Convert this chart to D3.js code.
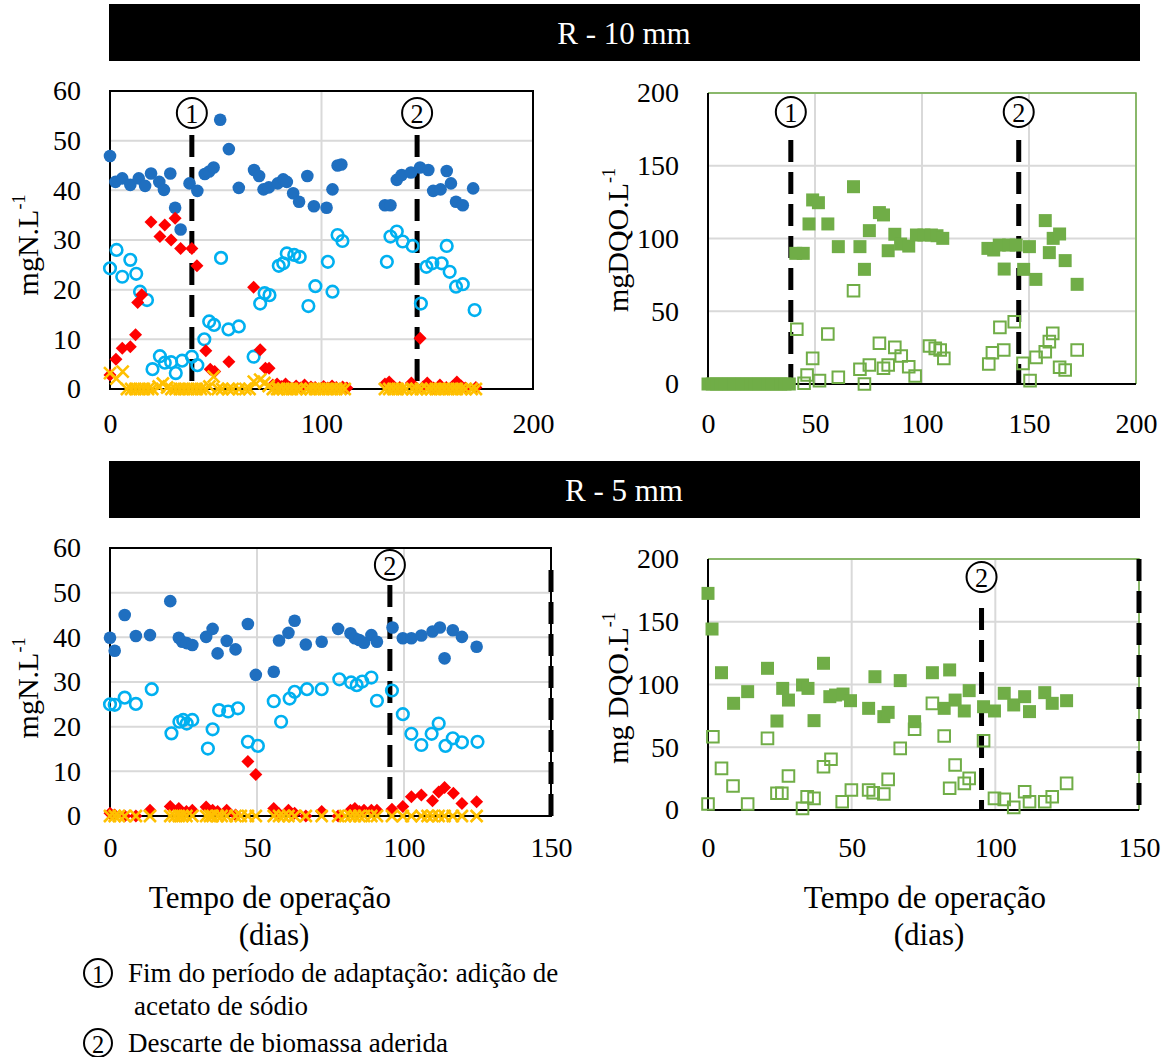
<!DOCTYPE html>
<html>
<head>
<meta charset="utf-8">
<script src="https://cdn.jsdelivr.net/npm/d3@7"></script>
<style>
  html, body { margin: 0; padding: 0; background: #fff; }
  svg { display: block; }
</style>
</head>
<body>
<div id="chart"></div>
<script>
// R-10 mm / R-5 mm – nitrogênio e DQO ao longo do tempo de operação

// ---- R - 10 mm, nitrogênio (mgN/L) : [dia, valor]
const r10BlueDots = [[0,46.9],[2.6,41.7],[5.8,42.4],[9.6,41.1],[13.6,42.4],[16.6,40.9],[19.4,43.4],[23.3,41.7],[25.5,40.1],[28.5,43.4],[30.8,36.5],[33.4,32.1],[37.6,41.4],[41.3,39.9],[44.8,43.3],[46.9,43.8],[49,44.6],[52.1,54.2],[56.2,48.3],[60.9,40.5],[68.1,44.1],[70.5,42.9],[72.6,40.2],[75.1,40.6],[79.3,41.4],[81.9,42.2],[83.6,41.7],[86.6,39.4],[89.4,37.7],[93.3,42.9],[96.4,36.8],[102.4,36.5],[105.2,40.2],[107.6,45.0],[109.4,45.2],[130,37.0],[132.6,37.0],[135.6,42.1],[137.9,43.1],[142.3,43.6],[146.6,44.6],[150.5,44.1],[152.8,39.9],[156.3,40.2],[159.2,43.9],[161.2,41.4],[163.6,37.7],[166.8,37.0],[171.7,40.4]];
const r10CyanRings = [[0,24.3],[3.1,28.0],[5.8,22.6],[9.6,26.0],[12.4,23.2],[14.2,19.6],[17.5,17.9],[20.1,4.0],[23.6,6.6],[25.9,5.3],[28.9,5.4],[31.1,3.2],[34.1,5.7],[38.7,6.5],[41.3,4.8],[44.6,10.0],[46.9,13.6],[49.2,12.9],[52.5,26.4],[56,12.0],[60.9,12.6],[67.9,6.5],[71,17.2],[73.1,19.3],[75.4,18.9],[79.8,24.8],[81.9,25.3],[83.6,27.3],[87.1,27.0],[89.7,26.6],[93.8,16.7],[97.1,20.7],[103,25.6],[105.2,19.6],[107.6,31.0],[109.9,29.8],[130.9,25.6],[132.6,30.7],[135.6,31.7],[138.4,29.7],[143.1,28.8],[147,17.2],[149.6,24.6],[152.4,25.3],[156.8,25.3],[159.2,28.8],[160.6,23.6],[163.6,20.6],[166.8,21.1],[172.4,15.9]];
const r10RedDiamonds = [[0,2.8],[2.8,6.0],[5.8,8.2],[9.6,8.5],[12.1,10.9],[13.1,17.4],[15,19.0],[19.4,33.6],[23.6,30.7],[25.9,33.0],[28.9,30.0],[30.8,34.4],[33.4,28.3],[38.7,28.3],[41.1,24.8],[45.3,7.7],[47.4,4.0],[49.5,3.5],[56.2,5.5],[67.9,20.5],[71,7.9],[73.5,4.2],[75.2,4.2],[77,0.8],[79,1.0],[81,0.5],[83,1.0],[85,0.3],[88,0.6],[90,0.2],[92,0.8],[95,0.4],[97,0.3],[101,0.5],[103,0.2],[105,0.6],[107,0.3],[110,0.4],[112,0.2],[130,1.0],[132,1.4],[134,0.5],[137,0.3],[142.5,1.2],[146.6,10.2],[148,0.4],[150,1.2],[153,0.2],[156,0.8],[159,0.3],[162,0.5],[164,1.4],[166,0.6],[168,0.2],[173,0.3]];
const r10OrangeCrosses = [[0,3.2],[3,2.1],[6,3.5],[8,0],[10,0],[12,0],[14,0],[16,0],[18,0],[20,0],[23,0.5],[25,1.1],[27,0.3],[29,0],[31,0],[33,0],[35,0],[37,0],[39,0],[41,0],[43,0],[45,0],[47,0.5],[49,2.5],[51,0],[53,0],[56,0],[58,0],[61,0],[64,0],[66,0],[68,1.5],[71,1.9],[73,1.2],[75,0.6],[77,0],[79,0],[80,0],[82,0],[84,0],[86,0],[88,0],[90,0],[93,0],[95,0],[97,0],[99,0],[101,0],[103,0],[105,0],[107,0],[109,0],[111,0],[130,0],[132,0],[134,0],[136,0],[138,0],[140,0],[143,0],[145,0],[147,0],[150,0],[152,0],[154,0],[156,0],[158,0],[160,0],[162,0],[164,0],[166,0],[168,0],[171,0],[173,0]];

// ---- R - 10 mm, DQO (mg/L)
const r10DqoFilled = [[0,0],[2,0],[4,0],[6,0],[8,0],[10,0],[12,0],[14,0],[16,0],[18,0],[20,0],[22,0],[24,0],[26,0],[28,0],[30,0],[32,0],[34,0],[36,0],[38,0],[41,89.8],[44.5,89.8],[47.2,110],[48.9,126.5],[51.6,124.6],[56,110],[60.9,94.4],[68,135.6],[71,94.4],[73.1,78.8],[75.4,105.4],[80.1,117.8],[82,116.2],[84.2,91.6],[87.3,102.9],[90,96.2],[93.8,94.8],[97.4,102.4],[100.9,102.4],[104.4,102.4],[107,101.9],[109.7,100.1],[130.8,93.2],[133.5,92.1],[136.1,95.5],[138.4,79],[140.5,95.5],[144,95.5],[147.5,78.8],[150.2,94.4],[153.2,71.9],[157.6,112.3],[159.5,90.3],[161.3,100.1],[164.3,103.1],[166.9,84.8],[172.5,68.5]];
const r10DqoOpen = [[41.5,37.6],[44.9,0.5],[46.3,6.2],[48.9,17.6],[52.1,2.3],[56,34.4],[60.9,4.6],[68,64.1],[71,10.1],[73.1,0],[75.4,13.1],[80.1,28],[82,10.8],[84.2,13.1],[87.3,25.2],[90.3,19.2],[93.8,11.9],[96.8,5.5],[103.5,26.1],[106.2,24.5],[108.5,23.4],[110.2,17.6],[131.2,13.7],[132.9,21.5],[136.4,38.9],[138.2,23.4],[143.1,42.8],[147.2,14.2],[150.5,2.3],[153.3,18.3],[157.6,22.2],[159.5,29.1],[161.1,34.8],[164.3,11.5],[166.9,9.6],[172.5,23.4]];

// ---- R - 5 mm, nitrogênio (mgN/L)
const r5BlueDots = [[0,39.9],[1.6,37.0],[5,45.0],[8.8,40.3],[13.6,40.5],[20.5,48.1],[23.4,39.9],[24.6,39.0],[26.1,38.7],[28,38.3],[32.7,40.1],[34.9,41.9],[36.6,36.4],[39.7,39.2],[42.7,37.3],[46.9,43.0],[49.6,31.6],[55.7,32.3],[57.5,39.3],[60.7,41.0],[62.8,43.7],[66.6,38.4],[72,39.0],[77.6,41.9],[81.8,40.9],[83.3,39.8],[84.8,39.4],[86.4,38.8],[88.9,40.5],[90.8,39.0],[96.1,42.2],[99.6,39.8],[102.5,39.8],[105.9,40.4],[109.7,41.3],[112.2,42.2],[113.8,35.3],[116.6,41.6],[119.7,40.1],[124.7,37.9]];
const r5CyanRings = [[0,25.0],[1.6,24.9],[5,26.5],[8.8,25.1],[14.2,28.4],[20.9,18.5],[23.6,21.1],[24.9,21.5],[26.1,20.7],[28,21.5],[33.3,15.1],[34.9,19.4],[37.1,23.7],[40.2,23.4],[43.5,24.1],[46.9,16.6],[50.3,15.7],[55.7,25.7],[58.2,21.1],[61.1,26.3],[62.8,27.8],[67,28.4],[72,28.4],[78,30.6],[82,29.9],[83.9,29.3],[85.8,30.1],[88.9,31.0],[90.8,25.8],[95.9,28.1],[99.6,22.8],[102.5,18.4],[105.9,15.9],[109.4,18.4],[111.8,20.7],[114.1,15.7],[116.6,17.4],[119.7,16.5],[125,16.6]];
const r5RedDiamonds = [[0,0.6],[1.6,0.2],[5,0],[8.8,0],[13.6,1.3],[20.5,2.1],[23.4,1.7],[26,1.0],[28,1.3],[32.7,2.0],[34.9,1.3],[36.6,1.0],[39.7,1.3],[42.7,0.2],[46.9,12.2],[49.6,9.3],[55.7,1.7],[57.5,0.5],[60.7,1.3],[62.8,0.6],[66.6,0],[72,1.0],[77.6,0],[81.8,1.3],[83.3,1.7],[84.8,1.0],[86.4,1.3],[88.9,1.3],[90.8,1.3],[95.9,1.5],[99.6,2.1],[102.5,4.3],[105.9,4.7],[109.7,3.4],[111.8,5.4],[113.8,6.4],[116.8,5.1],[119.7,2.8],[124.7,3.2]];
const r5OrangeCrosses = [[0,0],[1.6,0],[3,0],[5,0],[8.8,0],[13.6,0],[20.5,0],[22,0],[23.4,0],[24.6,0],[26,0],[28,0],[32.7,0],[34,0],[34.9,0],[36.6,0],[38,0],[39.7,0],[42.7,0],[44.5,0],[46.9,0],[49.6,0],[55.7,0],[57.5,0],[59,0],[60.7,0],[62.8,0],[66.6,0],[72,0],[77.6,0],[80,0],[81.8,0],[83.3,0],[84.8,0],[86.4,0],[88.9,0],[90.8,0],[95.9,0],[99.6,0],[102.5,0],[105.9,0],[108,0],[109.7,0],[111.8,0],[113.8,0],[116.6,0],[119.7,0],[124.7,0]];

// ---- R - 5 mm, DQO (mg/L)
const r5DqoFilled = [[0,172.6],[1.4,144.2],[4.7,109.4],[8.9,85.0],[13.8,94.3],[20.7,112.9],[24,70.9],[26,96.9],[28,87.6],[32.9,99.6],[34.8,96.9],[36.9,71.2],[40.2,116.9],[42.4,90.3],[44.4,91.6],[47,92.4],[49.6,87.1],[55.9,81.0],[58.1,106.2],[61.2,74.4],[62.7,77.8],[66.9,103.1],[71.9,70.4],[78.1,109.4],[82.2,81.0],[84.1,111.6],[86,87.6],[89.2,78.9],[90.9,95.1],[95.9,82.3],[99.7,78.9],[103.1,93],[106.4,83.7],[110.2,90.3],[111.9,78.4],[117.2,93.5],[119.8,85],[124.8,87.1]];
const r5DqoOpen = [[0,4.8],[1.7,58.4],[4.7,33.2],[8.7,19.1],[13.8,4.8],[20.7,57.1],[24,13.3],[25.7,13.3],[28,27.1],[32.9,1.3],[34.5,10.6],[36.9,9.3],[40.2,34.5],[42.8,40.4],[46.7,6.6],[49.9,15.9],[55.9,15.9],[57.5,13.8],[61.2,12.7],[62.7,24.4],[66.9,49.1],[71.9,64.3],[78.1,85],[82.2,59],[84.1,17.3],[86,35.9],[89.2,21.2],[90.9,25.2],[95.9,55.2],[99.7,9.3],[103.1,8.5],[106.4,2.1],[110.2,14.6],[111.9,6.6],[117.2,6.6],[119.8,10.6],[124.8,21.2]];

// eventos: 1 = fim da adaptação, 2 = descarte de biomassa
const r10Events = [{ day: 38.7, label: '1' }, { day: 145.2, label: '2' }];
const r5Events = [{ day: 95.2, label: '2' }];

const xTicksR10 = [0, 100, 200];
const xTicksR10Dqo = [0, 50, 100, 150, 200];
const xTicksR5 = [0, 50, 100, 150];
const yTicksN = [0, 10, 20, 30, 40, 50, 60];
const yTicksDqo = [0, 50, 100, 150, 200];

const FONT = '"Liberation Serif", "Times New Roman", serif';
const BLUE = '#1f6fc0', CYAN = '#00b0f0', RED = '#ff0000', ORANGE = '#ffc000', GREEN = '#70ad47';

const svg = d3.select('#chart').append('svg')
  .attr('width', 1170)
  .attr('height', 1057)
  .style('font-family', FONT);

// black title bars
[{ y: 4, text: 'R - 10 mm' }, { y: 461, text: 'R - 5 mm' }].forEach(b => {
  svg.append('rect')
    .attr('x', 109).attr('y', b.y)
    .attr('width', 1031).attr('height', 57)
    .attr('fill', '#000');
  svg.append('text')
    .attr('x', 624).attr('y', b.y + 29)
    .attr('text-anchor', 'middle')
    .attr('dominant-baseline', 'central')
    .attr('fill', '#fff')
    .attr('font-size', 31)
    .text(b.text);
});

function eventCircle(g, cx, cy, label, r) {
  g.append('circle')
    .attr('cx', cx).attr('cy', cy).attr('r', r)
    .attr('fill', '#fff').attr('stroke', '#000').attr('stroke-width', 2);
  g.append('text')
    .attr('x', cx).attr('y', cy + 1)
    .attr('text-anchor', 'middle')
    .attr('dominant-baseline', 'central')
    .attr('font-size', r * 1.75)
    .text(label);
}

function drawPanel(p) {
  const g = svg.append('g');
  const x = d3.scaleLinear().domain(p.xDomain).range([p.left, p.right]);
  const y = d3.scaleLinear().domain(p.yDomain).range([p.bottom, p.top]);

  // gridlines
  g.selectAll('.hg').data(p.yTicks).join('line')
    .attr('x1', p.left).attr('x2', p.right)
    .attr('y1', d => y(d)).attr('y2', d => y(d))
    .attr('stroke', '#d9d9d9').attr('stroke-width', 2);
  g.selectAll('.vg').data(p.xTicks).join('line')
    .attr('x1', d => x(d)).attr('x2', d => x(d))
    .attr('y1', p.top).attr('y2', p.bottom)
    .attr('stroke', '#d9d9d9').attr('stroke-width', 2);

  // frame
  if (p.greenFrame) {
    g.append('path')
      .attr('d', `M${p.left},${p.top}H${p.right}V${p.bottom}`)
      .attr('fill', 'none').attr('stroke', GREEN).attr('stroke-width', 1.5);
    g.append('path')
      .attr('d', `M${p.left},${p.top}V${p.bottom}H${p.right}`)
      .attr('fill', 'none').attr('stroke', '#000').attr('stroke-width', 2);
  } else {
    g.append('rect')
      .attr('x', p.left).attr('y', p.top)
      .attr('width', p.right - p.left).attr('height', p.bottom - p.top)
      .attr('fill', 'none').attr('stroke', '#000').attr('stroke-width', 2);
  }

  // event lines
  p.events.forEach(e => {
    g.append('line')
      .attr('x1', x(e.day)).attr('x2', x(e.day))
      .attr('y1', e.y0).attr('y2', p.bottom)
      .attr('stroke', '#000').attr('stroke-width', 5)
      .attr('stroke-dasharray', '22,10');
    if (e.label) eventCircle(g, x(e.day), e.cy, e.label, 15);
  });

  // series
  p.series.forEach(s => {
    const sel = g.append('g').selectAll('path').data(s.data).join('path')
      .attr('transform', d => `translate(${x(d[0])},${y(d[1])})`);
    if (s.shape === 'dot') {
      sel.attr('d', d3.symbol(d3.symbolCircle, Math.PI * 6.3 * 6.3)).attr('fill', s.color);
    } else if (s.shape === 'ring') {
      sel.attr('d', d3.symbol(d3.symbolCircle, Math.PI * 5.8 * 5.8))
        .attr('fill', 'none').attr('stroke', s.color).attr('stroke-width', 2.6);
    } else if (s.shape === 'diamond') {
      sel.attr('d', 'M0,-6.5L6.5,0L0,6.5L-6.5,0Z').attr('fill', s.color);
    } else if (s.shape === 'cross') {
      sel.attr('d', 'M-6,-6L6,6M-6,6L6,-6')
        .attr('fill', 'none').attr('stroke', s.color).attr('stroke-width', 2.6);
    } else if (s.shape === 'square') {
      sel.attr('d', 'M-6.5,-6.5H6.5V6.5H-6.5Z').attr('fill', s.color);
    } else if (s.shape === 'openSquare') {
      sel.attr('d', 'M-5.8,-5.8H5.8V5.8H-5.8Z')
        .attr('fill', 'none').attr('stroke', s.color).attr('stroke-width', 2);
    }
  });

  // axes labels
  const ax = g.append('g')
    .attr('transform', `translate(${p.left},0)`)
    .call(d3.axisLeft(y).tickValues(p.yTicks).tickSize(0).tickPadding(29));
  const bx = g.append('g')
    .attr('transform', `translate(0,${p.bottom})`)
    .call(d3.axisBottom(x).tickValues(p.xTicks).tickSize(0).tickPadding(p.xPad));
  [ax, bx].forEach(a => {
    a.select('.domain').remove();
    a.selectAll('text').attr('font-family', FONT).attr('font-size', 28).attr('fill', '#000');
  });

  // y title
  const t = g.append('text')
    .attr('transform', `translate(${p.titleX},${p.titleY}) rotate(-90)`)
    .attr('text-anchor', 'middle')
    .attr('font-size', 30);
  t.append('tspan').text(p.title);
  t.append('tspan').attr('font-size', 18).attr('dy', -13).text('-1');
}

drawPanel({
  left: 110, right: 533, top: 91, bottom: 389,
  xDomain: [0, 200], yDomain: [0, 60], xTicks: xTicksR10, yTicks: yTicksN, xPad: 24,
  title: 'mgN.L', titleX: 38, titleY: 245,
  events: r10Events.map(e => ({ ...e, y0: 135, cy: 113 })),
  series: [
    { data: r10BlueDots, shape: 'dot', color: BLUE },
    { data: r10CyanRings, shape: 'ring', color: CYAN },
    { data: r10RedDiamonds, shape: 'diamond', color: RED },
    { data: r10OrangeCrosses, shape: 'cross', color: ORANGE }
  ]
});

drawPanel({
  left: 708, right: 1136, top: 93, bottom: 384,
  xDomain: [0, 200], yDomain: [0, 200], xTicks: xTicksR10Dqo, yTicks: yTicksDqo, xPad: 29,
  title: 'mgDQO.L', titleX: 628, titleY: 240, greenFrame: true,
  events: r10Events.map(e => ({ ...e, y0: 140, cy: 112 })),
  series: [
    { data: r10DqoFilled, shape: 'square', color: GREEN },
    { data: r10DqoOpen, shape: 'openSquare', color: GREEN }
  ]
});

drawPanel({
  left: 110, right: 551, top: 548, bottom: 816,
  xDomain: [0, 150], yDomain: [0, 60], xTicks: xTicksR5, yTicks: yTicksN, xPad: 21,
  title: 'mgN.L', titleX: 38, titleY: 688,
  events: r5Events.map(e => ({ ...e, y0: 585, cy: 565 })).concat([{ day: 150, y0: 570 }]),
  series: [
    { data: r5BlueDots, shape: 'dot', color: BLUE },
    { data: r5CyanRings, shape: 'ring', color: CYAN },
    { data: r5RedDiamonds, shape: 'diamond', color: RED },
    { data: r5OrangeCrosses, shape: 'cross', color: ORANGE }
  ]
});

drawPanel({
  left: 708, right: 1139, top: 559, bottom: 810,
  xDomain: [0, 150], yDomain: [0, 200], xTicks: xTicksR5, yTicks: yTicksDqo, xPad: 27,
  title: 'mg DQO.L', titleX: 628, titleY: 688, greenFrame: true,
  events: r5Events.map(e => ({ ...e, y0: 608, cy: 577 })).concat([{ day: 150, y0: 559 }]),
  series: [
    { data: r5DqoFilled, shape: 'square', color: GREEN },
    { data: r5DqoOpen, shape: 'openSquare', color: GREEN }
  ]
});

// x titles
[{ x: 270 }, { x: 925 }].forEach(c => {
  svg.append('text').attr('x', c.x).attr('y', 897)
    .attr('text-anchor', 'middle').attr('dominant-baseline', 'central')
    .attr('font-size', 31).text('Tempo de operação');
  svg.append('text').attr('x', c.x + 4).attr('y', 934)
    .attr('text-anchor', 'middle').attr('dominant-baseline', 'central')
    .attr('font-size', 31).text('(dias)');
});

// notes
const notes = svg.append('g');
eventCircle(notes, 98, 973, '1', 14);
eventCircle(notes, 98, 1043, '2', 14);
notes.append('text').attr('x', 128).attr('y', 973).attr('dominant-baseline', 'central')
  .attr('font-size', 27).text('Fim do período de adaptação: adição de');
notes.append('text').attr('x', 134).attr('y', 1006).attr('dominant-baseline', 'central')
  .attr('font-size', 27).text('acetato de sódio');
notes.append('text').attr('x', 128).attr('y', 1043).attr('dominant-baseline', 'central')
  .attr('font-size', 27).text('Descarte de biomassa aderida');
</script>
</body>
</html>
